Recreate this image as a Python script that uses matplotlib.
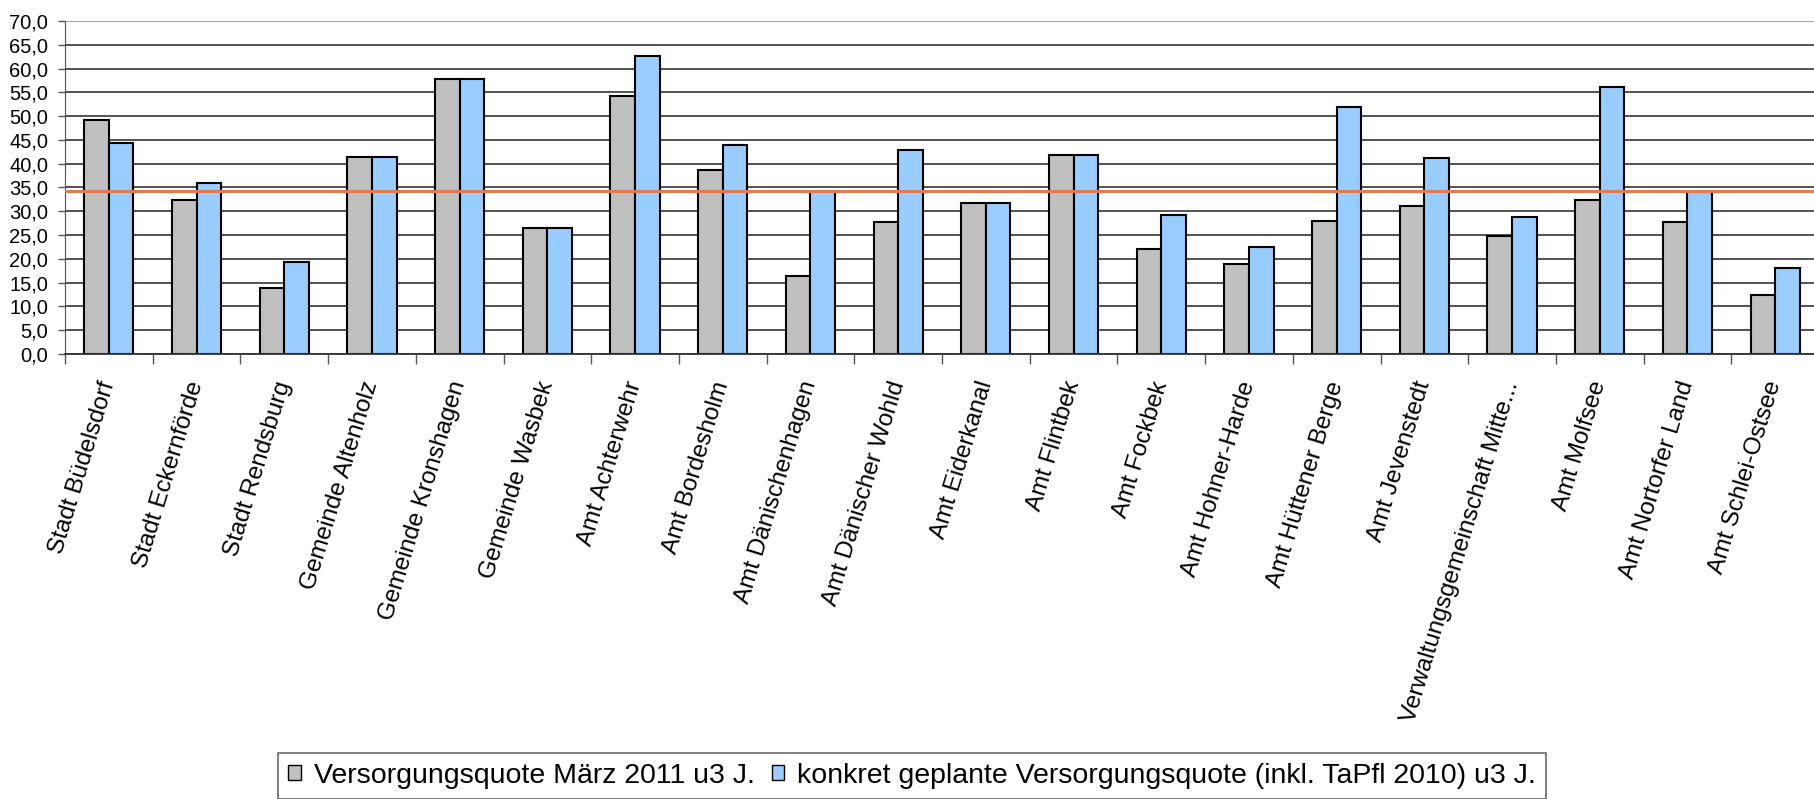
import matplotlib
matplotlib.use("Agg")
import matplotlib.pyplot as plt
import numpy as np
from matplotlib.patches import Patch

plt.rcParams['font.family'] = ['Liberation Sans', 'DejaVu Sans']

# Data
gemeinden = [
    "Stadt Büdelsdorf", "Stadt Eckernförde", "Stadt Rendsburg",
    "Gemeinde Altenholz", "Gemeinde Kronshagen", "Gemeinde Wasbek",
    "Amt Achterwehr", "Amt Bordesholm", "Amt Dänischenhagen",
    "Amt Dänischer Wohld", "Amt Eiderkanal", "Amt Flintbek", "Amt Fockbek",
    "Amt Hohner-Harde", "Amt Hüttener Berge", "Amt Jevenstedt",
    "Verwaltungsgemeinschaft Mitte...", "Amt Molfsee", "Amt Nortorfer Land",
    "Amt Schlei-Ostsee",
]
quote_2011 = [49.1, 32.4, 13.8, 41.5, 57.8, 26.4, 54.2, 38.7, 16.5, 27.7,
              31.7, 41.9, 22.1, 18.9, 28.0, 31.2, 24.8, 32.4, 27.7, 12.5]
quote_geplant = [44.3, 36.0, 19.4, 41.5, 57.8, 26.4, 62.6, 43.9, 34.3, 42.8,
                 31.7, 41.9, 29.2, 22.4, 51.9, 41.2, 28.9, 56.2, 34.0, 18.1]
zielwert = 34.3

label_2011 = "Versorgungsquote März 2011 u3 J."
label_geplant = "konkret geplante Versorgungsquote (inkl. TaPfl 2010) u3 J."

fig = plt.figure(figsize=(18.14, 7.99), dpi=100)
ax = fig.add_axes([65 / 1814, 1 - 354 / 799, (1819 - 65) / 1814, (354 - 21) / 799])

x = np.arange(len(gemeinden))
w = 0.28
ax.bar(x - w / 2, quote_2011, w, color='#C0C0C0', edgecolor='black', linewidth=1.5, zorder=2)
ax.bar(x + w / 2, quote_geplant, w, color='#99CCFF', edgecolor='black', linewidth=1.5, zorder=2)
ax.axhline(zielwert, color='#E07B53', linewidth=2.2, zorder=3)

ax.set_xlim(-0.5, len(gemeinden) - 0.5)
ax.set_ylim(0, 70)
ax.set_yticks(np.arange(0, 71, 5))
ax.set_yticklabels([f"{v:.1f}".replace('.', ',') for v in np.arange(0, 71, 5)], fontsize=14.5)
ax.tick_params(axis='y', length=5, width=1, color='#555555', pad=7)

ax.set_xticks(x)
ax.set_xticklabels(gemeinden, rotation=73, ha='right', va='center',
                   rotation_mode='anchor', fontsize=17.5)
ax.tick_params(axis='x', which='major', length=0, pad=20)
ax.set_xticks(np.arange(-0.5, len(gemeinden), 1), minor=True)
ax.tick_params(axis='x', which='minor', length=7, width=1, color='#555555')

ax.set_axisbelow(True)
ax.yaxis.grid(True, color='#444444', linewidth=1.3)
ax.get_ygridlines()[-1].set_color('#999999')
for s in ['top', 'right']:
    ax.spines[s].set_visible(False)
ax.spines['left'].set_color('#555555')
ax.spines['bottom'].set_color('#333333')
ax.spines['bottom'].set_linewidth(1.3)

handles = [Patch(facecolor='#C0C0C0', edgecolor='black', label=label_2011),
           Patch(facecolor='#99CCFF', edgecolor='black', label=label_geplant)]
leg = fig.legend(handles=handles, loc='upper center', ncol=2,
                 bbox_to_anchor=(912 / 1814, 1 - 753 / 799), fontsize=20.5,
                 frameon=True, fancybox=False, edgecolor='#444444',
                 handlelength=0.45, handleheight=0.45, handletextpad=0.45,
                 columnspacing=0.6, borderpad=0.35, borderaxespad=0)
leg.get_frame().set_linewidth(1.2)

fig.savefig('out.png', dpi=100)
